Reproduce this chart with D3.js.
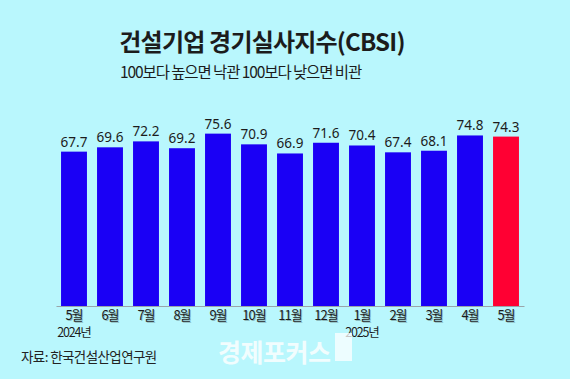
<!DOCTYPE html>
<html><head><meta charset="utf-8">
<script src="https://cdn.jsdelivr.net/npm/d3@7"></script>
<style>
html,body{margin:0;padding:0;background:#b9f7fd;}
svg{display:block;}
</style></head>
<body>
<svg id="chart" width="570" height="379"></svg>
<script>
const months = ["5월","6월","7월","8월","9월","10월","11월","12월","1월","2월","3월","4월","5월"];
const yearLabels = ["2024년","","","","","","","","2025년","","","",""];
const values = [67.7,69.6,72.2,69.2,75.6,70.9,66.9,71.6,70.4,67.4,68.1,74.8,74.3];
const highlight = [false,false,false,false,false,false,false,false,false,false,false,false,true];
const title = "건설기업 경기실사지수(CBSI)";
const subtitle = "100보다 높으면 낙관 100보다 낮으면 비관";
const source = "자료: 한국건설산업연구원";
const watermark = "경제포커스";

const svg = d3.select("#chart");
const W = 570, H = 379;
svg.append("rect").attr("width",W).attr("height",H).attr("fill","#b9f7fd");

const ids = months.map((m,i)=>i);
const x = d3.scaleBand().domain(ids).range([56,524]).paddingInner(0.28).paddingOuter(0.14);
const y = d3.scaleLinear().domain([0,100]).range([306,78]);

const font = "'Noto Sans CJK KR','Noto Sans',sans-serif";

svg.append("text").attr("x",262).attr("y",51).attr("text-anchor","middle")
  .attr("font-family",font).attr("font-weight","bold").attr("font-size",24)
  .attr("letter-spacing",-0.8).attr("fill","#1c1c1c").text(title);
svg.append("text").attr("x",120).attr("y",78)
  .attr("font-family",font).attr("font-size",15.5)
  .attr("letter-spacing",-1.1).attr("fill","#1c1c1c").text(subtitle);

svg.append("g").selectAll("rect").data(values).join("rect")
  .attr("x",(d,i)=>x(i)).attr("width",x.bandwidth())
  .attr("y",d=>y(d)).attr("height",d=>y(0)-y(d))
  .attr("fill",(d,i)=>highlight[i]?"#ff0033":"#1a00f5");

svg.append("g").selectAll("text").data(values).join("text")
  .attr("x",(d,i)=>x(i)+x.bandwidth()/2).attr("y",d=>y(d)-5)
  .attr("text-anchor","middle").attr("font-family","'Noto Sans',sans-serif")
  .attr("font-size",13.5).attr("fill","#1c1c1c").text(d=>d.toFixed(1));

// axis
const axis = d3.axisBottom(x).tickSize(0).tickPadding(5).tickFormat(i=>months[i]);
const ag = svg.append("g").attr("transform","translate(0,306)").call(axis);
ag.select(".domain").attr("stroke","#9aa6aa").attr("stroke-width",1.2);
ag.selectAll(".tick text").attr("font-family",font).attr("font-size",13)
  .attr("letter-spacing",-1).attr("fill","#1c1c1c")
  .style("text-shadow","1px 1px 0 rgba(0,0,0,0.25)");

svg.append("g").selectAll("text").data(yearLabels).join("text")
  .attr("x",(d,i)=>x(i)+x.bandwidth()/2).attr("y",337)
  .attr("text-anchor","middle").attr("font-family",font).attr("font-size",12.5)
  .attr("letter-spacing",-1.2).attr("fill","#1c1c1c").text(d=>d);

svg.append("text").attr("x",21).attr("y",362)
  .attr("font-family",font).attr("font-size",13.5).attr("letter-spacing",-0.6)
  .attr("fill","#222").text(source);

svg.append("text").attr("x",218).attr("y",362)
  .attr("font-family",font).attr("font-weight","bold").attr("font-size",25)
  .attr("letter-spacing",-0.5).attr("fill","#ffffff").attr("opacity",0.8).text(watermark);
svg.append("rect").attr("x",335).attr("y",333).attr("width",17).attr("height",28)
  .attr("fill","#ffffff").attr("opacity",0.75);
</script>
</body></html>
